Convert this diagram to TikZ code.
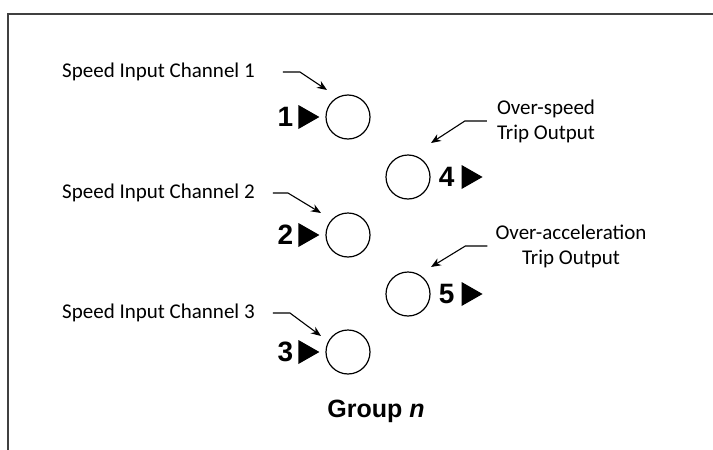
\documentclass[tikz,border=0pt]{standalone}
\usepackage{fontspec}
\setmainfont{Carlito}
\newfontfamily\numfont{Liberation Sans}
\usetikzlibrary{arrows.meta}
\usetikzlibrary{positioning}
\usetikzlibrary{shapes, shapes.geometric}

\begin{document}
\begin{tikzpicture}[x=1pt, y=-1pt,
  lbl/.style={font=\fontsize{21}{25}\selectfont, inner sep=0pt},
  port/.style={circle, draw, line width=1.2pt, minimum size=44pt, inner sep=0pt},
  num/.style={font=\numfont\bfseries\fontsize{28}{30}\selectfont, inner sep=0pt},
  pointer/.style={-{Stealth[length=10pt, width=8pt]}, line width=1.1pt}]

\useasboundingbox (0,0) rectangle (713,450);
\draw[line width=1.5pt, black!75] (8,450) -- (8,14) -- (713,14);

% inputs
\node[port] (c1) at (348,117) {};
\node[port] (c2) at (348,235) {};
\node[port] (c3) at (348,352) {};
\node[num, left=32pt of c1] (n1) {1};
\node[num, left=32pt of c2] (n2) {2};
\node[num, left=32pt of c3] (n3) {3};
\fill ([xshift=-6pt]c1.west) -- ++(-21,-12) -- ++(0,24) -- cycle;
\fill ([xshift=-6pt]c2.west) -- ++(-21,-12) -- ++(0,24) -- cycle;
\fill ([xshift=-6pt]c3.west) -- ++(-21,-12) -- ++(0,24) -- cycle;

% outputs
\node[port] (c4) at (408,177) {};
\node[port] (c5) at (408,294) {};
\node[num, right=8pt of c4] (n4) {4};
\node[num, right=8pt of c5] (n5) {5};
\fill ([xshift=7pt]n4.east) ++(0,-12) -- ++(21,12) -- ++(-21,12) -- cycle;
\fill ([xshift=7pt]n5.east) ++(0,-12) -- ++(21,12) -- ++(-21,12) -- cycle;

\node[lbl, anchor=west] (in1) at (62,72) {Speed Input Channel 1};
\node[lbl, anchor=west] (in2) at (62,193) {Speed Input Channel 2};
\node[lbl, anchor=west] (in3) at (62,313) {Speed Input Channel 3};
\node[lbl, align=center] (out4) at (546,121) {Over-speed\\Trip Output};
\node[lbl, align=center] (out5) at (571,246) {Over-acceleration\\Trip Output};

\coordinate (p1) at (327,90);
\coordinate (p2) at (321,213);
\coordinate (p3) at (321,336);
\coordinate (p4) at (431,143);
\coordinate (p5) at (431,267);

\draw[pointer] ([xshift=28pt]in1.east) -- ++(17,0) -- (p1);
\draw[pointer] ([xshift=18pt]in2.east) -- ++(15,0) -- (p2);
\draw[pointer] ([xshift=18pt]in3.east) -- ++(17,0) -- (p3);
\draw[pointer] ([xshift=-10pt]out4.west) -- ++(-22,0) -- (p4);
\draw[pointer] ([xshift=-8pt]out5.west) -- ++(-22,0) -- (p5);

\node[font=\numfont\bfseries\fontsize{25}{30}\selectfont, inner sep=0pt] (grp) at (376,411) {Group \textit{n}};

\end{tikzpicture}
\end{document}
